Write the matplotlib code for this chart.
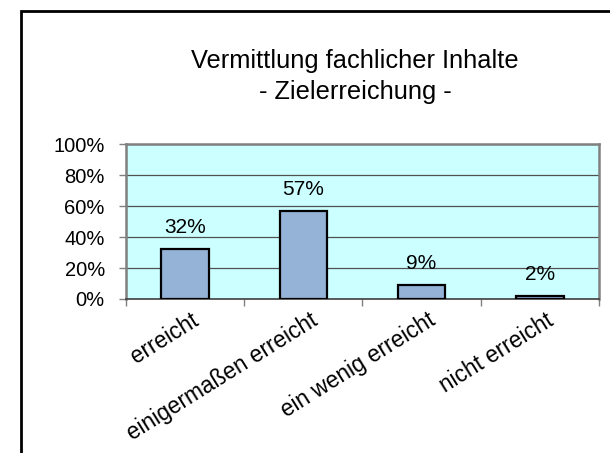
import matplotlib
matplotlib.use("Agg")
import matplotlib.pyplot as plt
import matplotlib.transforms as mtransforms
from matplotlib.patches import Rectangle
import numpy as np

categories = ["erreicht", "einigermaßen erreicht", "ein wenig erreicht", "nicht erreicht"]
values = [32, 57, 9, 2]
value_labels = ["32%", "57%", "9%", "2%"]
yticks = [0, 20, 40, 60, 80, 100]
ytick_labels = ["0%", "20%", "40%", "60%", "80%", "100%"]
title_line1 = "Vermittlung fachlicher Inhalte"
title_line2 = "- Zielerreichung -"

plt.rcParams['font.family'] = ['Liberation Sans', 'DejaVu Sans']
W, H = 610, 453
fig = plt.figure(figsize=(W / 100, H / 100), dpi=100)

# outer chart frame (clipped at right/bottom)
fig.patches.append(Rectangle((21 / W, -0.5), 2.0, 1.5 - 11 / H, transform=fig.transFigure,
                             fill=False, edgecolor='black', linewidth=2.0, clip_on=False))

ax = fig.add_axes([125.7 / W, 1 - 299 / H, (599 - 125.7) / W, (299 - 144) / H])
ax.set_facecolor('#CCFFFF')

x = np.arange(len(categories))
ax.bar(x, values, width=0.4, color='#95B3D7', edgecolor='black', linewidth=1.6, zorder=3)

ax.set_xlim(-0.5, len(categories) - 0.5)
ax.set_ylim(0, 100)

ax.set_yticks(yticks)
ax.set_yticklabels(ytick_labels, fontsize=14.5)
ax.tick_params(axis='y', length=5, width=1, color='#808080', pad=10, direction='out')
ax.yaxis.grid(True, color='#505050', linewidth=0.9, zorder=1)
ax.set_axisbelow(True)

ax.set_xticks(x)
ax.set_xticklabels(categories, fontsize=16.3, rotation=32, ha='right', va='top', rotation_mode='anchor')
ax.set_xticks(np.arange(len(categories) + 1) - 0.5, minor=True)
ax.tick_params(axis='x', which='major', length=0, pad=7)
ax.tick_params(axis='x', which='minor', length=5, width=1, color='#808080', direction='out')
offset = mtransforms.ScaledTranslation(6 / 100, 0, fig.dpi_scale_trans)
for lbl in ax.get_xticklabels():
    lbl.set_transform(lbl.get_transform() + offset)

for s in ['top', 'right', 'left']:
    ax.spines[s].set_color('#808080')
    ax.spines[s].set_linewidth(1.8)
ax.spines['bottom'].set_color('#404040')
ax.spines['bottom'].set_linewidth(1.2)

for xi, v, lab in zip(x, values, value_labels):
    ax.annotate(lab, (xi, v), xytext=(0, 15.5), textcoords='offset points',
                ha='center', va='center', fontsize=15)

fig.text(355 / W, 1 - 68 / H, title_line1, ha='center', va='baseline', fontsize=18.3)
fig.text(355 / W, 1 - 99 / H, title_line2, ha='center', va='baseline', fontsize=18.3)

fig.savefig("out.png", dpi=100)
